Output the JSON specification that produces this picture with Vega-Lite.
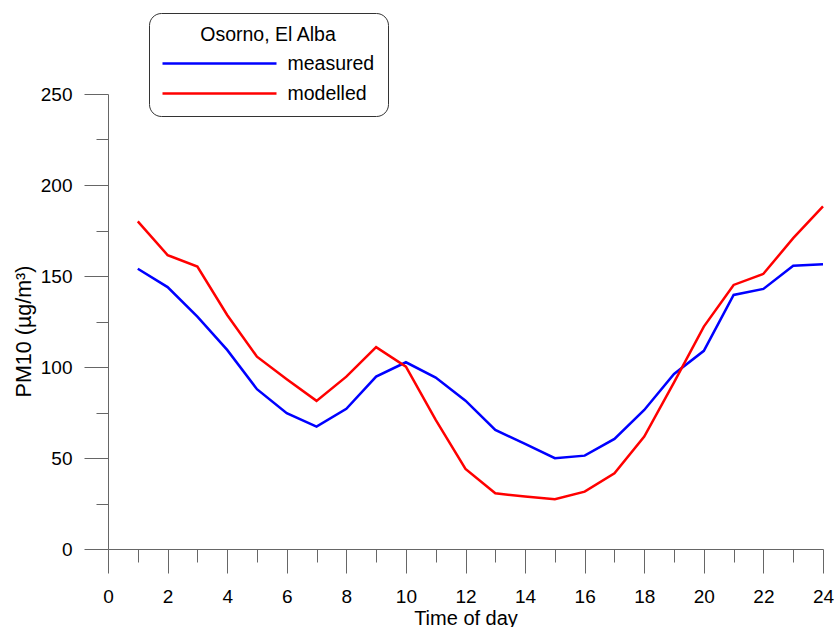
{
  "$schema": "https://vega.github.io/schema/vega-lite/v6.json",
  "width": 715,
  "height": 455,
  "autosize": {"type": "none"},
  "padding": {"left": 108, "top": 94, "right": 14, "bottom": 78},
  "background": "white",
  "config": {"view": {"stroke": null}, "font": "Liberation Sans"},
  "data": {
    "values": [
      {"hour": 1, "series": "measured", "pm10": 154},
      {"hour": 2, "series": "measured", "pm10": 143.9},
      {"hour": 3, "series": "measured", "pm10": 127.7},
      {"hour": 4, "series": "measured", "pm10": 109.4},
      {"hour": 5, "series": "measured", "pm10": 87.8},
      {"hour": 6, "series": "measured", "pm10": 74.6},
      {"hour": 7, "series": "measured", "pm10": 67.2},
      {"hour": 8, "series": "measured", "pm10": 77},
      {"hour": 9, "series": "measured", "pm10": 94.7},
      {"hour": 10, "series": "measured", "pm10": 102.6},
      {"hour": 11, "series": "measured", "pm10": 94.2},
      {"hour": 12, "series": "measured", "pm10": 81.5},
      {"hour": 13, "series": "measured", "pm10": 65.4},
      {"hour": 14, "series": "measured", "pm10": 57.7},
      {"hour": 15, "series": "measured", "pm10": 49.9},
      {"hour": 16, "series": "measured", "pm10": 51.3},
      {"hour": 17, "series": "measured", "pm10": 60.5},
      {"hour": 18, "series": "measured", "pm10": 76.4},
      {"hour": 19, "series": "measured", "pm10": 96.2},
      {"hour": 20, "series": "measured", "pm10": 108.9},
      {"hour": 21, "series": "measured", "pm10": 139.6},
      {"hour": 22, "series": "measured", "pm10": 142.9},
      {"hour": 23, "series": "measured", "pm10": 155.6},
      {"hour": 24, "series": "measured", "pm10": 156.5},
      {"hour": 1, "series": "modelled", "pm10": 180},
      {"hour": 2, "series": "modelled", "pm10": 161.5},
      {"hour": 3, "series": "modelled", "pm10": 155.2},
      {"hour": 4, "series": "modelled", "pm10": 128.6},
      {"hour": 5, "series": "modelled", "pm10": 105.7},
      {"hour": 6, "series": "modelled", "pm10": 93.3},
      {"hour": 7, "series": "modelled", "pm10": 81.4},
      {"hour": 8, "series": "modelled", "pm10": 94.7},
      {"hour": 9, "series": "modelled", "pm10": 110.9},
      {"hour": 10, "series": "modelled", "pm10": 100.2},
      {"hour": 11, "series": "modelled", "pm10": 70.9},
      {"hour": 12, "series": "modelled", "pm10": 44},
      {"hour": 13, "series": "modelled", "pm10": 30.6},
      {"hour": 14, "series": "modelled", "pm10": 28.8},
      {"hour": 15, "series": "modelled", "pm10": 27.3},
      {"hour": 16, "series": "modelled", "pm10": 31.5},
      {"hour": 17, "series": "modelled", "pm10": 41.6},
      {"hour": 18, "series": "modelled", "pm10": 61.8},
      {"hour": 19, "series": "modelled", "pm10": 91.6},
      {"hour": 20, "series": "modelled", "pm10": 122.2},
      {"hour": 21, "series": "modelled", "pm10": 145.1},
      {"hour": 22, "series": "modelled", "pm10": 151.2},
      {"hour": 23, "series": "modelled", "pm10": 170.8},
      {"hour": 24, "series": "modelled", "pm10": 188.2}
    ]
  },
  "mark": {"type": "line", "strokeWidth": 2.5},
  "encoding": {
    "x": {
      "field": "hour",
      "type": "quantitative",
      "scale": {"domain": [0, 24], "nice": false, "zero": false},
      "axis": {
        "title": "Time of day",
        "values": [0,1,2,3,4,5,6,7,8,9,10,11,12,13,14,15,16,17,18,19,20,21,22,23,24],
        "labelExpr": "datum.value % 2 === 0 ? datum.label : ''",
        "tickSize": {"condition": {"test": "datum.value % 2 === 1", "value": 13}, "value": 24},
        "grid": false,
        "domainColor": "#666666",
        "tickColor": "#666666",
        "domainWidth": 1,
        "tickWidth": 1,
        "labelFontSize": 19,
        "labelColor": "black",
        "labelPadding": 14,
        "labelFlush": false,
        "labelOverlap": false,
        "titleFontSize": 20,
        "titleFontWeight": "normal",
        "titleColor": "black",
        "titlePadding": 2
      }
    },
    "y": {
      "field": "pm10",
      "type": "quantitative",
      "scale": {"domain": [0, 250], "nice": false},
      "axis": {
        "title": "PM10 (µg/m³)",
        "values": [0,25,50,75,100,125,150,175,200,225,250],
        "labelExpr": "datum.value % 50 === 0 ? datum.label : ''",
        "tickSize": {"condition": {"test": "datum.value % 50 !== 0", "value": 12}, "value": 24},
        "grid": false,
        "domainColor": "#666666",
        "tickColor": "#666666",
        "labelFontSize": 19,
        "labelColor": "black",
        "labelPadding": 12,
        "labelFlush": false,
        "labelOverlap": false,
        "titleFontSize": 21.5,
        "titleFontWeight": "normal",
        "titleColor": "black",
        "titlePadding": 5,
        "titleY": 237
      }
    },
    "color": {
      "field": "series",
      "type": "nominal",
      "scale": {"domain": ["measured", "modelled"], "range": ["#0000ff", "#ff0000"]},
      "legend": {
        "orient": "none",
        "legendX": 41,
        "legendY": -81,
        "title": "Osorno, El Alba",
        "titleFontSize": 19.5,
        "titleFontWeight": "normal",
        "titleColor": "black",
        "titleAnchor": "middle",
        "titlePadding": 7,
        "labelFontSize": 19.5,
        "labelColor": "black",
        "symbolType": "M-6,0H6",
        "symbolSize": 361,
        "symbolStrokeWidth": 2.5,
        "symbolOffset": 46.5,
        "strokeColor": "#333333",
        "cornerRadius": 12,
        "padding": 13,
        "fillColor": "white",
        "labelOffset": 57,
        "rowPadding": 9
      }
    }
  }
}
